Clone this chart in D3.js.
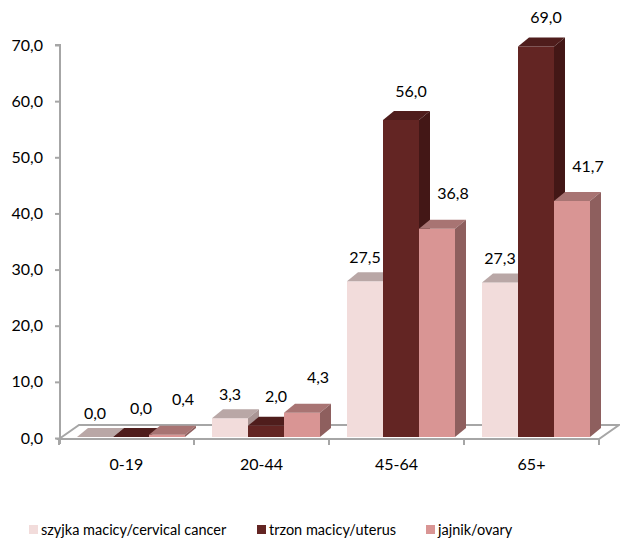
<!DOCTYPE html>
<html><head><meta charset="utf-8">
<script src="https://cdn.jsdelivr.net/npm/d3@7"></script>
<style>body{margin:0;background:#fff}svg{display:block}text{font-family:Lato,"Open Sans",sans-serif;fill:#000}</style>
</head><body><svg id="c" width="620" height="539"></svg>
<script>
const categories = ["0-19","20-44","45-64","65+"];
const seriesNames = ["szyjka macicy/cervical cancer","trzon macicy/uterus","jajnik/ovary"];
const cervical = [0.0, 3.3, 27.5, 27.3];
const uterus   = [0.0, 2.0, 56.0, 69.0];
const ovary    = [0.4, 4.3, 36.8, 41.7];
const yTicks = [0,10,20,30,40,50,60,70];

const seriesValues = [cervical, uterus, ovary];
const colors = [
  {front:"#F2DCDB", top:"#B9A7A6", side:"#A99594"},
  {front:"#632523", top:"#4F1D1C", side:"#431716"},
  {front:"#D99594", top:"#A87473", side:"#8E5F5E"}
];
const labelDx = [0, 10, 16], labelDy = [24, 29, 35];

const svg = d3.select("#c");
const fmt = v => d3.format(".1f")(v).replace(".", ",");

const yAx = d3.scaleLinear().domain([0,70]).range([438,45]);
const yBar = d3.scaleLinear().domain([0,70]).range([437,40.8]);
const x = d3.scaleBand().domain(categories).range([59,599]).padding(0);
const xs = d3.scaleBand().domain(d3.range(3)).range([18,126]).padding(0);
const dx = 11, dy = -9;
const fdx = 20, fdy = -14;

// floor
const x0 = x.range()[0], x1 = x.range()[1], yf = 439;
svg.append("path")
  .attr("d", `M${x0},${yf}L${x0+fdx},${yf+fdy}L${x1+fdx},${yf+fdy}L${x1},${yf}Z`)
  .attr("fill","#fff").attr("stroke","#A6A6A6").attr("stroke-width",2);

// y axis
const yAxis = d3.axisLeft(yAx).tickValues(yTicks).tickSize(5).tickPadding(12).tickFormat(fmt);
const gy = svg.append("g").attr("transform","translate(60,0)").call(yAxis);
gy.select(".domain").attr("stroke","#A6A6A6").attr("stroke-width",2).attr("d","M-5,45H0V444");
gy.selectAll(".tick line").attr("stroke","#A6A6A6").attr("stroke-width",2);
gy.selectAll(".tick text").attr("font-size",16).style("font-family","Lato,sans-serif").attr("fill","#000");

// x axis
const gx = svg.append("g").attr("transform",`translate(0,${yf})`);
gx.append("line").attr("x1",x0).attr("x2",x1).attr("stroke","#A6A6A6").attr("stroke-width",2);
const bounds = categories.map(c => x(c)).concat([x1]);
gx.selectAll("line.t").data(bounds).join("line").attr("class","t")
  .attr("x1",d=>d).attr("x2",d=>d).attr("y1",0).attr("y2",6)
  .attr("stroke","#A6A6A6").attr("stroke-width",2);
gx.selectAll("text").data(categories).join("text")
  .attr("x",d=>x(d)+x.bandwidth()/2).attr("y",25).attr("dy","0.35em")
  .attr("text-anchor","middle").attr("font-size",16).text(d=>d);

// bars
const bars = svg.append("g");
categories.forEach((c, ci) => {
  seriesValues.forEach((vals, si) => {
    const v = vals[ci];
    const bx0 = x(c) + xs(si), bx1 = bx0 + xs.bandwidth();
    const yb = yBar(0), yt = yBar(v);
    const col = colors[si];
    const g = bars.append("g");
    g.append("path").attr("d",`M${bx0},${yb}L${bx1},${yb}L${bx1},${yt}L${bx0},${yt}Z`).attr("fill",col.front);
    g.append("path").attr("d",`M${bx0},${yt}L${bx0+dx},${yt+dy}L${bx1+dx},${yt+dy}L${bx1},${yt}Z`).attr("fill",col.top);
    g.append("path").attr("d",`M${bx1},${yb}L${bx1+dx},${yb+dy}L${bx1+dx},${yt+dy}L${bx1},${yt}Z`).attr("fill",col.side);
  });
});

// labels
const labels = svg.append("g");
categories.forEach((c, ci) => {
  seriesValues.forEach((vals, si) => {
    const v = vals[ci];
    const cx = x(c) + xs(si) + xs.bandwidth()/2 + labelDx[si];
    labels.append("text").attr("x",cx).attr("y",yBar(v)-labelDy[si]).attr("dy","0.35em")
      .attr("text-anchor","middle").attr("font-size",16).text(fmt(v));
  });
});

// legend
const legendX = [29, 257, 426];
const lg = svg.append("g");
seriesNames.forEach((n, i) => {
  lg.append("rect").attr("x",legendX[i]).attr("y",525).attr("width",9).attr("height",9).attr("fill",colors[i].front);
  lg.append("text").attr("x",legendX[i]+12).attr("y",529.5).attr("dy","0.35em").attr("font-size",14.5).text(n);
});
</script></body></html>
